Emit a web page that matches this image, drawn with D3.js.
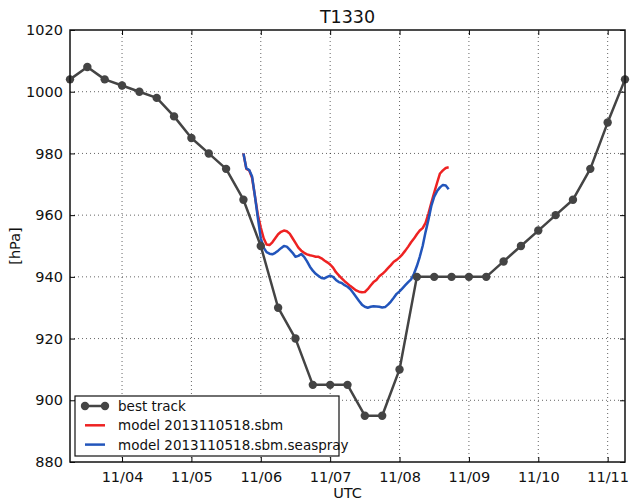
<!DOCTYPE html>
<html>
<head>
<meta charset="utf-8">
<script src="https://cdn.jsdelivr.net/npm/d3@7"></script>
<style>
  html, body { margin: 0; padding: 0; background: #fff; }
  svg { display: block; font-family: "DejaVu Sans", sans-serif; }
</style>
</head>
<body>
<svg id="chart" width="630" height="502"></svg>
<script>
// ---- data ----
const chartTitle = "T1330";
const yLabel = "[hPa]";
const xLabel = "UTC";
const xTickLabels = ["11/04", "11/05", "11/06", "11/07", "11/08", "11/09", "11/10", "11/11"];
const yTicks = [880, 900, 920, 940, 960, 980, 1000, 1020];

// best track: 6-hourly from 2013-11-03 06UTC
const bestTrackStart = "2013-11-03T06:00:00Z";
const bestTrackPressure = [1004, 1008, 1004, 1002, 1000, 998, 992, 985, 980, 975, 965,
  950, 930, 920, 905, 905, 905, 895, 895, 910, 940, 940, 940, 940, 940, 945,
  950, 955, 960, 965, 975, 990, 1004];

// models: hourly from 2013-11-05 18UTC
const modelStart = "2013-11-05T18:00:00Z";
const sbmPressure = [980, 975, 974.5, 972, 966, 960, 956, 952.5, 950.5, 950.3,
  951.2, 952.5, 953.8, 954.6, 955, 954.8, 954, 952.5, 951, 949.5,
  948.5, 947.8, 947.3, 947, 946.8, 946.5, 946.5, 946, 945.3, 944.7,
  944, 943, 941.5, 940.5, 939.5, 938.6, 937.8, 937, 936.3, 935.6,
  935.2, 935, 935.1, 936, 937.2, 938.3, 939, 940.2, 940.9, 941.8,
  942.8, 943.8, 944.9, 945.5, 946.3, 947.3, 948.5, 949.8, 951.2, 952.4,
  953.8, 955, 955.8, 957.5, 960.5, 964, 967.3, 970.5, 973.5, 974.5,
  975.3, 975.5];
const seasprayPressure = [980, 975.2, 974.6, 972.5, 966, 959, 952.5, 949.5, 948, 947.5,
  947.3, 947.8, 948.5, 949.3, 950, 949.8, 948.8, 947.8, 946.5, 946.8,
  947.4, 946.5, 945, 943.3, 942, 941, 940.3, 939.6, 939.5, 940,
  940.4, 940, 939, 938.3, 938, 937.3, 936.8, 936, 934.8, 933.5,
  932.2, 931, 930.3, 930, 930.3, 930.5, 930.4, 930.3, 930.1, 930.2,
  931, 932, 933.2, 934.5, 935.3, 936.3, 937.3, 938.3, 939.2, 941,
  943.5, 946.5, 950, 954.5, 958.5, 963, 966, 967.8, 969, 969.8,
  969.6, 968.4];
const seriesNames = ["best track", "model 2013110518.sbm", "model 2013110518.sbm.seaspray"];
const seriesColors = ["#444444", "#ee2222", "#2255bb"];

// ---- build ----
const H = 3600 * 1000;
const bt = bestTrackPressure.map((v, i) => ({ t: new Date(+new Date(bestTrackStart) + i * 6 * H), v }));
const sbm = sbmPressure.map((v, i) => ({ t: new Date(+new Date(modelStart) + i * H), v }));
const sea = seasprayPressure.map((v, i) => ({ t: new Date(+new Date(modelStart) + i * H), v }));

const m = { left: 70, right: 5, top: 30, bottom: 40 };
const W = 630, Ht = 502;
const svg = d3.select("#chart");

const x = d3.scaleUtc()
  .domain([new Date("2013-11-03T06:00:00Z"), new Date("2013-11-11T06:00:00Z")])
  .range([m.left, W - m.right]);
const y = d3.scaleLinear().domain([880, 1020]).range([Ht - m.bottom, m.top]);

const xTickDates = xTickLabels.map((s, i) => new Date(Date.UTC(2013, 10, 4 + i)));

// grid
const grid = svg.append("g");
grid.selectAll("line.vx").data(xTickDates).join("line")
  .attr("x1", d => x(d)).attr("x2", d => x(d))
  .attr("y1", y(880)).attr("y2", y(1020))
  .attr("stroke", "#000").attr("stroke-width", 1).attr("stroke-dasharray", "1,3").attr("opacity", 0.6);
grid.selectAll("line.hy").data(yTicks.slice(1, -1)).join("line")
  .attr("y1", d => y(d)).attr("y2", d => y(d))
  .attr("x1", x.range()[0]).attr("x2", x.range()[1])
  .attr("stroke", "#000").attr("stroke-width", 1).attr("stroke-dasharray", "1,3").attr("opacity", 0.6);

// axes (inward ticks)
const fmtX = d => xTickLabels[xTickDates.findIndex(t => +t === +d)];
const axB = svg.append("g").attr("transform", `translate(0,${y(880)})`)
  .call(d3.axisBottom(x).tickValues(xTickDates).tickFormat(fmtX).tickSizeInner(-5).tickSizeOuter(0).tickPadding(10));
const axT = svg.append("g").attr("transform", `translate(0,${y(1020)})`)
  .call(d3.axisTop(x).tickValues(xTickDates).tickFormat("").tickSizeInner(-5).tickSizeOuter(0));
const axL = svg.append("g").attr("transform", `translate(${x.range()[0]},0)`)
  .call(d3.axisLeft(y).tickValues(yTicks).tickFormat(d3.format("d")).tickSizeInner(-5).tickSizeOuter(0).tickPadding(7));
const axR = svg.append("g").attr("transform", `translate(${x.range()[1]},0)`)
  .call(d3.axisRight(y).tickValues(yTicks).tickFormat("").tickSizeInner(-5).tickSizeOuter(0));
[axB, axT, axL, axR].forEach(a => {
  a.select(".domain").remove();
  a.selectAll(".tick line").attr("stroke", "#000").attr("stroke-width", 1);
  a.selectAll("text").attr("font-family", "DejaVu Sans").attr("font-size", 14.5).attr("fill", "#111");
});

// lines
const lineGen = d3.line().x(d => x(d.t)).y(d => y(d.v));
svg.append("path").datum(sbm).attr("d", lineGen)
  .attr("fill", "none").attr("stroke", seriesColors[1]).attr("stroke-width", 2.5).attr("stroke-linejoin", "round");
svg.append("path").datum(sea).attr("d", lineGen)
  .attr("fill", "none").attr("stroke", seriesColors[2]).attr("stroke-width", 2.5).attr("stroke-linejoin", "round");
svg.append("path").datum(bt).attr("d", lineGen)
  .attr("fill", "none").attr("stroke", seriesColors[0]).attr("stroke-width", 2.5).attr("stroke-linejoin", "round");
svg.append("g").selectAll("circle").data(bt).join("circle")
  .attr("cx", d => x(d.t)).attr("cy", d => y(d.v)).attr("r", 4.2)
  .attr("fill", seriesColors[0]);

// frame
svg.append("rect")
  .attr("x", x.range()[0]).attr("y", y(1020))
  .attr("width", x.range()[1] - x.range()[0]).attr("height", y(880) - y(1020))
  .attr("fill", "none").attr("stroke", "#111").attr("stroke-width", 1.5);

// title + labels
svg.append("text").attr("x", (x.range()[0] + x.range()[1]) / 2).attr("y", 23)
  .attr("text-anchor", "middle").attr("font-size", 17.5).attr("fill", "#111").text(chartTitle);
svg.append("text").attr("x", (x.range()[0] + x.range()[1]) / 2).attr("y", 498)
  .attr("text-anchor", "middle").attr("font-size", 14.5).attr("fill", "#111").text(xLabel);
svg.append("text").attr("transform", `translate(20,${(y(880) + y(1020)) / 2}) rotate(-90)`)
  .attr("text-anchor", "middle").attr("font-size", 14.5).attr("fill", "#111").text(yLabel);

// legend
const lg = svg.append("g").attr("transform", "translate(75,396)");
lg.append("rect").attr("width", 264).attr("height", 60)
  .attr("fill", "#fff").attr("stroke", "#111").attr("stroke-width", 1.2);
seriesNames.forEach((name, i) => {
  const cy = 10 + i * 19.3;
  lg.append("line").attr("x1", 10).attr("x2", 30).attr("y1", cy).attr("y2", cy)
    .attr("stroke", seriesColors[i]).attr("stroke-width", 2.5);
  if (i === 0) {
    [10, 30].forEach(cx => lg.append("circle").attr("cx", cx).attr("cy", cy).attr("r", 4.2).attr("fill", seriesColors[0]));
  }
  lg.append("text").attr("x", 43).attr("y", cy + 5).attr("font-size", 13.5).attr("fill", "#111").text(name);
});
</script>
</body>
</html>
